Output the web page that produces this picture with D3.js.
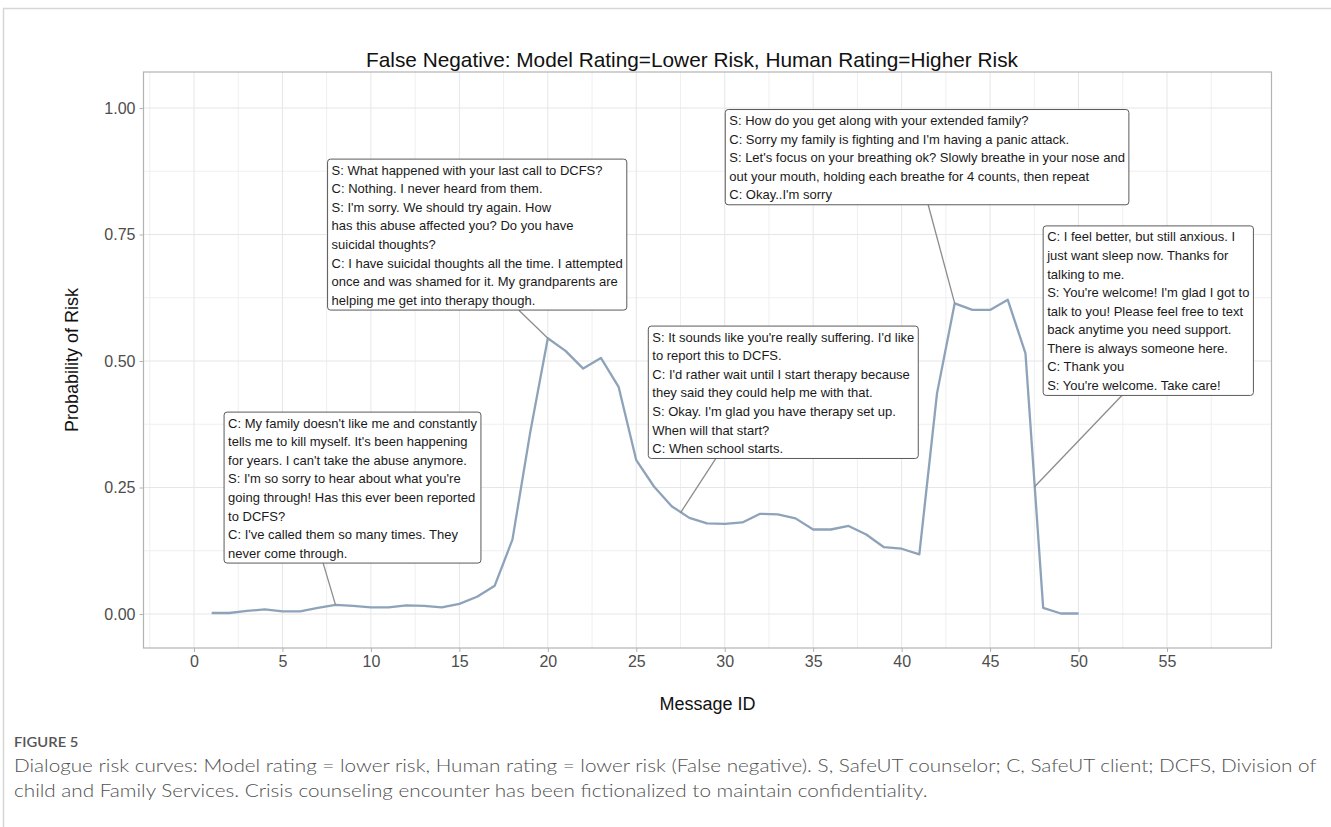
<!DOCTYPE html>
<html>
<head>
<meta charset="utf-8">
<script src="https://cdn.jsdelivr.net/npm/d3@7"></script>
<style>
  body { margin: 0; background: #fff; }
  svg { display: block; }
</style>
</head>
<body>
<script>
// message ids and model risk probabilities
var messageId = [1, 2, 3, 4, 5, 6, 7, 8, 9, 10,
  11, 12, 13, 14, 15, 16, 17, 18, 19, 20,
  21, 22, 23, 24, 25, 26, 27, 28, 29, 30,
  31, 32, 33, 34, 35, 36, 37, 38, 39, 40,
  41, 42, 43, 44, 45, 46, 47, 48, 49, 50];
var riskProb = [0.002, 0.002, 0.006, 0.009, 0.005, 0.005, 0.012, 0.018, 0.016, 0.013,
  0.013, 0.017, 0.016, 0.013, 0.020, 0.034, 0.056, 0.147, 0.358, 0.545,
  0.520, 0.485, 0.506, 0.449, 0.304, 0.252, 0.213, 0.190, 0.179, 0.178,
  0.181, 0.198, 0.197, 0.189, 0.167, 0.167, 0.174, 0.157, 0.132, 0.129,
  0.118, 0.436, 0.614, 0.601, 0.601, 0.621, 0.515, 0.012, 0.001, 0.001];

var xTicks = [0, 5, 10, 15, 20, 25, 30, 35, 40, 45, 50, 55];
var yTicks = [0, 0.25, 0.5, 0.75, 1];

var titleText = "False Negative: Model Rating=Lower Risk, Human Rating=Higher Risk";
var xTitle = "Message ID";
var yTitle = "Probability of Risk";

// dialogue excerpts: text lines, point the leader line goes to
var noteLines = [
  ["C: My family doesn't like me and constantly",
   "tells me to kill myself. It's been happening",
   "for years. I can't take the abuse anymore.",
   "S: I'm so sorry to hear about what you're",
   "going through! Has this ever been reported",
   "to DCFS?",
   "C: I've called them so many times. They",
   "never come through."],
  ["S: What happened with your last call to DCFS?",
   "C: Nothing. I never heard from them.",
   "S: I'm sorry. We should try again. How",
   "has this abuse affected you? Do you have",
   "suicidal thoughts?",
   "C: I have suicidal thoughts all the time. I attempted",
   "once and was shamed for it. My grandparents are",
   "helping me get into therapy though."],
  ["S: It sounds like you're really suffering. I'd like",
   "to report this to DCFS.",
   "C: I'd rather wait until I start therapy because",
   "they said they could help me with that.",
   "S: Okay. I'm glad you have therapy set up.",
   "When will that start?",
   "C: When school starts."],
  ["S: How do you get along with your extended family?",
   "C: Sorry my family is fighting and I'm having a panic attack.",
   "S: Let's focus on your breathing ok? Slowly breathe in your nose and",
   "out your mouth, holding each breathe for 4 counts, then repeat",
   "C: Okay..I'm sorry"],
  ["C: I feel better, but still anxious. I",
   "just want sleep now. Thanks for",
   "talking to me.",
   "S: You're welcome! I'm glad I got to",
   "talk to you! Please feel free to text",
   "back anytime you need support.",
   "There is always someone here.",
   "C: Thank you",
   "S: You're welcome. Take care!"]
];
var noteTargetX = [8, 20, 27.5, 43, 47.5];
var noteTargetY = [0.018, 0.545, 0.2, 0.614, 0.251];
// label box top-left corner and leader start, in data units
var noteBoxX = [1.7, 7.55, 25.68, 30.03, 48.0];
var noteBoxY = [0.399, 0.899, 0.569, 0.997, 0.767];
var noteStartX = [7.3, 18.35, 29.5, 41.5, 52.45];

var captionHead = "FIGURE 5";
var captionLines = [
  "Dialogue risk curves: Model rating = lower risk, Human rating = lower risk (False negative). S, SafeUT counselor; C, SafeUT client; DCFS, Division of",
  "child and Family Services. Crisis counseling encounter has been fictionalized to maintain confidentiality."
];

var W = 1331, H = 827;
var panel = {left: 143.5, right: 1271.5, top: 72, bottom: 648};

var svg = d3.select("body").append("svg")
  .attr("width", W)
  .attr("height", H);

// figure frame
svg.append("rect")
  .attr("x", 3.5).attr("y", 8.5)
  .attr("width", W + 10).attr("height", H)
  .attr("fill", "none")
  .attr("stroke", "#d6d6d6")
  .attr("stroke-width", 1.5);

// scales: 0 -> 194px, 55 -> 1167px ; 0 -> 614px, 1 -> 108px
var pxPerX = (1167 - 194) / 55, pxPerY = 614 - 108;
var x = d3.scaleLinear()
  .domain([-(194 - panel.left) / pxPerX, 55 + (panel.right - 1167) / pxPerX])
  .range([panel.left, panel.right]);
var y = d3.scaleLinear()
  .domain([-(panel.bottom - 614) / pxPerY, (614 - panel.top) / pxPerY])
  .range([panel.bottom, panel.top]);

var font = "'Liberation Sans', Arial, sans-serif";

// grid lines (minor every 2.5 / 0.125), kept inside the panel
function inX(d){ return d >= x.domain()[0] && d <= x.domain()[1]; }
function inY(d){ return d >= y.domain()[0] && d <= y.domain()[1]; }
var xMinor = d3.range(-2.5, 61, 5).filter(inX);
var yMinor = d3.range(-0.125, 1.1, 0.25).filter(inY);
var grid = svg.append("g").attr("class", "grid");
grid.selectAll(".vminor").data(xMinor).enter().append("line")
  .attr("x1", function(d){ return x(d); }).attr("x2", function(d){ return x(d); })
  .attr("y1", panel.top).attr("y2", panel.bottom)
  .attr("stroke", "#efefef").attr("stroke-width", 1);
grid.selectAll(".hminor").data(yMinor).enter().append("line")
  .attr("y1", function(d){ return y(d); }).attr("y2", function(d){ return y(d); })
  .attr("x1", panel.left).attr("x2", panel.right)
  .attr("stroke", "#efefef").attr("stroke-width", 1);
grid.selectAll(".vmajor").data(xTicks).enter().append("line")
  .attr("x1", function(d){ return x(d); }).attr("x2", function(d){ return x(d); })
  .attr("y1", panel.top).attr("y2", panel.bottom)
  .attr("stroke", "#e6e6e6").attr("stroke-width", 1);
grid.selectAll(".hmajor").data(yTicks).enter().append("line")
  .attr("y1", function(d){ return y(d); }).attr("y2", function(d){ return y(d); })
  .attr("x1", panel.left).attr("x2", panel.right)
  .attr("stroke", "#e6e6e6").attr("stroke-width", 1);

// panel border
svg.append("rect")
  .attr("x", panel.left).attr("y", panel.top)
  .attr("width", panel.right - panel.left)
  .attr("height", panel.bottom - panel.top)
  .attr("fill", "none")
  .attr("stroke", "#b3b3b3")
  .attr("stroke-width", 1.2);

// axes
var xAxis = svg.append("g")
  .attr("transform", "translate(0," + panel.bottom + ")")
  .call(d3.axisBottom(x).tickValues(xTicks).tickSize(4).tickPadding(4));
var yAxis = svg.append("g")
  .attr("transform", "translate(" + panel.left + ",0)")
  .call(d3.axisLeft(y).tickValues(yTicks).tickSize(4).tickPadding(4).tickFormat(d3.format(".2f")));
[xAxis, yAxis].forEach(function(ax){
  ax.select(".domain").remove();
  ax.selectAll(".tick line").attr("stroke", "#b3b3b3");
  ax.selectAll(".tick text")
    .attr("fill", "#4d4d4d")
    .style("font-family", font)
    .style("font-size", "16px");
});

// risk curve
var pts = messageId.map(function(d, i){ return [d, riskProb[i]]; });
var line = d3.line()
  .x(function(d){ return x(d[0]); })
  .y(function(d){ return y(d[1]); });
svg.append("path")
  .datum(pts)
  .attr("d", line)
  .attr("fill", "none")
  .attr("stroke", "#8ea3b9")
  .attr("stroke-width", 2.3)
  .attr("stroke-linejoin", "round");

// annotation labels
var lineH = 18.57, noteFont = 13;
noteLines.forEach(function(lines, i){
  var bx = x(noteBoxX[i]), by = y(noteBoxY[i]);
  var g = svg.append("g");
  var seg = g.append("line")
    .attr("x1", x(noteStartX[i]))
    .attr("x2", x(noteTargetX[i]))
    .attr("y2", y(noteTargetY[i]))
    .attr("stroke", "#8c8c8c")
    .attr("stroke-width", 1.3);
  var box = g.append("rect")
    .attr("x", bx).attr("y", by)
    .attr("rx", 3).attr("ry", 3)
    .attr("fill", "#fff")
    .attr("stroke", "#5a5a5a")
    .attr("stroke-width", 1);
  var txt = g.append("text")
    .style("font-family", font)
    .style("font-size", noteFont + "px")
    .attr("fill", "#1a1a1a");
  lines.forEach(function(s, j){
    txt.append("tspan")
      .attr("x", bx + 4)
      .attr("y", by + 15.6 + j * lineH)
      .text(s);
  });
  var wMax = d3.max(txt.selectAll("tspan").nodes(), function(n){ return n.getComputedTextLength(); });
  var bh = lines.length * lineH + 2.4;
  box.attr("width", wMax + 8).attr("height", bh);
  seg.attr("y1", by + bh);
});

// titles
svg.append("text")
  .attr("x", 692)
  .attr("y", 61)
  .attr("text-anchor", "middle")
  .attr("dominant-baseline", "middle")
  .style("font-family", font)
  .style("font-size", "20.8px")
  .attr("fill", "#111")
  .text(titleText);
svg.append("text")
  .attr("x", (panel.left + panel.right) / 2)
  .attr("y", 705)
  .attr("text-anchor", "middle")
  .attr("dominant-baseline", "middle")
  .style("font-family", font)
  .style("font-size", "18px")
  .attr("fill", "#111")
  .text(xTitle);
svg.append("text")
  .attr("transform", "translate(73," + ((panel.top + panel.bottom) / 2) + ") rotate(-90)")
  .attr("text-anchor", "middle")
  .attr("dominant-baseline", "middle")
  .style("font-family", font)
  .style("font-size", "18px")
  .attr("fill", "#111")
  .text(yTitle);

// caption (squeezed horizontally to the figure width)
var capG = svg.append("g");
capG.append("text")
  .attr("x", 0).attr("y", 747)
  .style("font-family", "Lato, 'Open Sans', sans-serif")
  .style("font-size", "12.5px")
  .style("font-weight", 600)
  .attr("fill", "#555")
  .text(captionHead);
var cap = capG.append("text")
  .style("font-family", "Lato, 'Open Sans', sans-serif")
  .style("font-size", "17.5px")
  .style("font-weight", 300)
  .attr("fill", "#505050");
captionLines.forEach(function(s, j){
  cap.append("tspan").attr("x", 0).attr("y", 772 + j * 25).text(s);
});
var capW = cap.select("tspan").node().getComputedTextLength();
capG.attr("transform", "translate(14,0) scale(" + (1303 / capW) + ",1)");
</script>
</body>
</html>
